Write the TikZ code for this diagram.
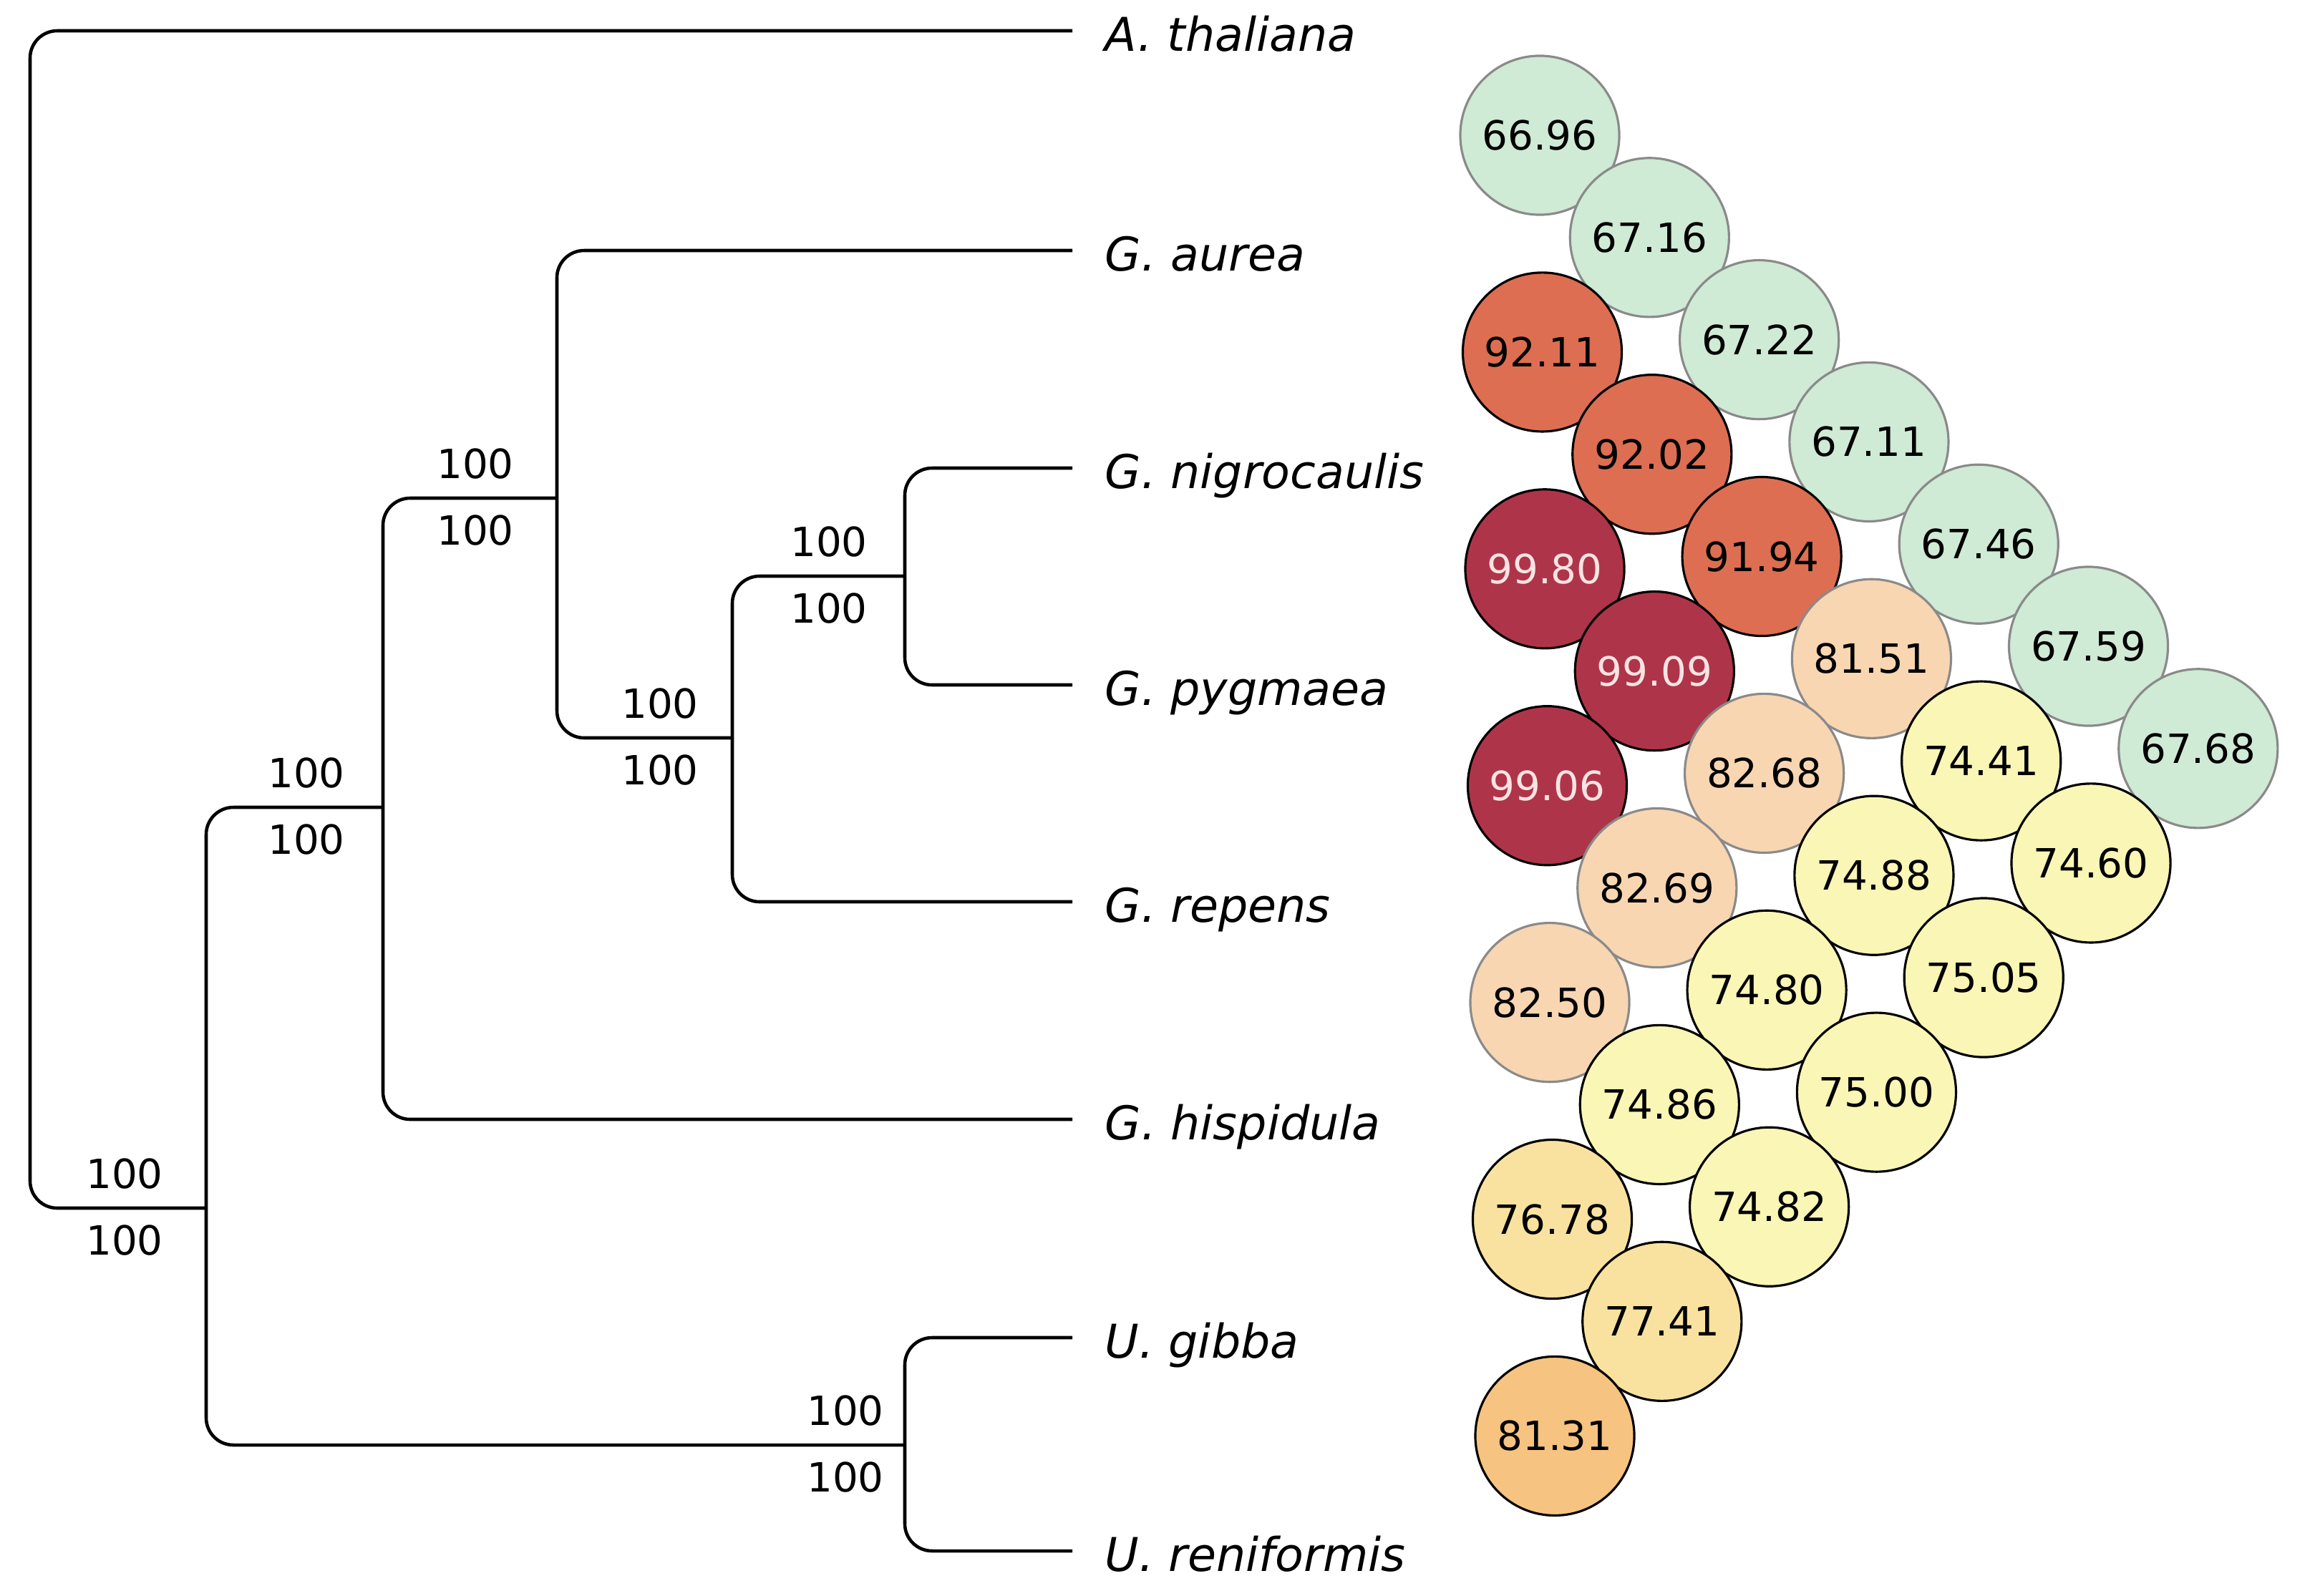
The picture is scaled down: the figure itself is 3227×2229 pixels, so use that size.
\documentclass[tikz,border=0pt]{standalone}
\usepackage{fontspec}
\setmainfont{DejaVu Sans}

\definecolor{cMint}{HTML}{CFEAD5}
\definecolor{cCoral}{HTML}{DD6E52}
\definecolor{cWine}{HTML}{AE3549}
\definecolor{cPeach}{HTML}{F8D6B2}
\definecolor{cLemon}{HTML}{F9F6B6}
\definecolor{cSand}{HTML}{F9E2A0}
\definecolor{cApricot}{HTML}{F6C380}
\definecolor{cRim}{HTML}{8A8A8A}
\definecolor{cPale}{HTML}{FAE3E3}

\tikzset{
  branch/.style={line width=1.3pt, rounded corners=0.38cm},
  taxon/.style={anchor=west, inner xsep=0.45cm, inner ysep=0pt, text height=0.56cm, text depth=0cm,
    font=\fontsize{18.5}{22}\selectfont\itshape},
  boot/.style={inner sep=0pt, font=\fontsize{16}{19}\selectfont},
  cell/.style={circle, minimum size=2.22cm, inner sep=0pt, line width=0.9pt, font=\fontsize{16}{19}\selectfont},
  mint/.style={fill=cMint, draw=cRim},
  coral/.style={fill=cCoral, draw=black},
  wine/.style={fill=cWine, draw=black, text=cPale},
  peach/.style={fill=cPeach, draw=cRim},
  lemon/.style={fill=cLemon, draw=black},
  sand/.style={fill=cSand, draw=black},
  apricot/.style={fill=cApricot, draw=black}
}

\begin{document}
\begin{tikzpicture}[x=0.01cm, y=-0.01cm]
    \useasboundingbox (0,0) rectangle (3227,2229);

    \node[taxon] (ath) at (1498,43) {A. thaliana};
    \node[taxon] (gau) at (1498,350) {G. aurea};
    \node[taxon] (gni) at (1498,654) {G. nigrocaulis};
    \node[taxon] (gpy) at (1498,957) {G. pygmaea};
    \node[taxon] (gre) at (1498,1260) {G. repens};
    \node[taxon] (ghi) at (1498,1564) {G. hispidula};
    \node[taxon] (ugi) at (1498,1869) {U. gibba};
    \node[taxon] (ure) at (1498,2167) {U. reniformis};

    \coordinate (n5) at (1264,805);
    \coordinate (n4) at (1023,1031);
    \coordinate (n3) at (778,696);
    \coordinate (n2) at (535,1128);
    \coordinate (n6) at (1264,2019);
    \coordinate (n1) at (288,1688);
    \coordinate (root) at (42,866);

    \draw[branch] (gni.west) -| (n5) |- (gpy.west);
    \draw[branch] (n5) -| (n4) |- (gre.west);
    \draw[branch] (gau.west) -| (n3) |- (n4);
    \draw[branch] (n3) -| (n2) |- (ghi.west);
    \draw[branch] (ugi.west) -| (n6) |- (ure.west);
    \draw[branch] (n2) -| (n1) |- (n6);
    \draw[branch] (ath.west) -| (root) |- (n1);

    \foreach \nm/\x/\y in {r/174/1688, a/428/1128, b/664/696, c/922/1031, d/1158/805, e/1181/2019}{
        \node[boot] (bt\nm) at (\x,\y-48) {100};
        \node[boot] (bb\nm) at (\x,\y+45) {100};
    }

    \foreach \i/\j/\v/\c in {0/1/66.96/mint, 0/2/67.16/mint, 0/3/67.22/mint, 0/4/67.11/mint,
        0/5/67.46/mint, 0/6/67.59/mint, 0/7/67.68/mint,
        1/2/92.11/coral, 1/3/92.02/coral, 1/4/91.94/coral, 1/5/81.51/peach, 1/6/74.41/lemon, 1/7/74.60/lemon,
        2/3/99.80/wine, 2/4/99.09/wine, 2/5/82.68/peach, 2/6/74.88/lemon, 2/7/75.05/lemon,
        3/4/99.06/wine, 3/5/82.69/peach, 3/6/74.80/lemon, 3/7/75.00/lemon,
        4/5/82.50/peach, 4/6/74.86/lemon, 4/7/74.82/lemon,
        5/6/76.78/sand, 5/7/77.41/sand,
        6/7/81.31/apricot}
        \node[cell, \c] (c\i\j) at ({2151+(\j-1)*153.3-\i*149.8}, {189+(\j-1)*142.8+\i*160.1}) {\v};

\end{tikzpicture}
\end{document}
